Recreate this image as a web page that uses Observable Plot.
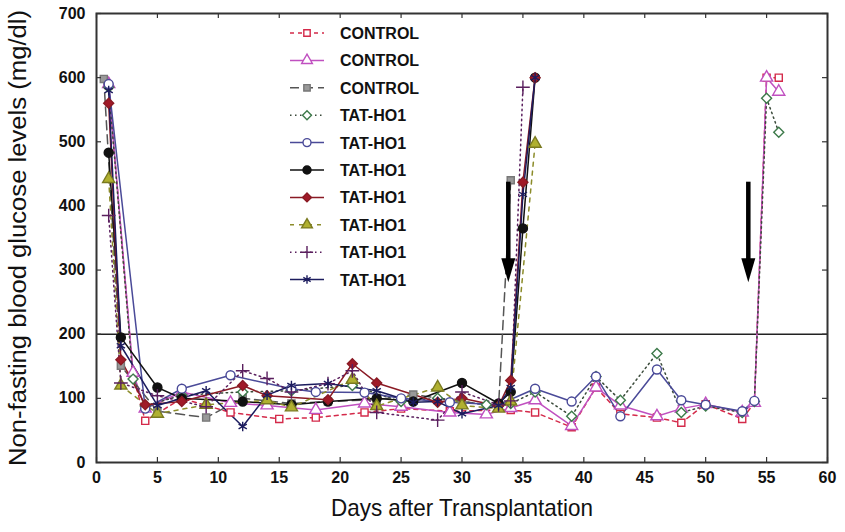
<!DOCTYPE html>
<html><head><meta charset="utf-8">
<script src="https://cdn.jsdelivr.net/npm/d3@7"></script>
<script src="https://cdn.jsdelivr.net/npm/@observablehq/plot@0.6"></script>
<style>
body{margin:0;background:#fff;font-family:"Liberation Sans",Arial,sans-serif}
#chart{position:relative;width:845px;height:532px}
#legend{position:absolute;left:0;top:0}
</style></head><body><div id="chart"></div>
<script>
// ---- data ----
const xTicks = [0,5,10,15,20,25,30,35,40,45,50,55,60];
const yTicks = [0,100,200,300,400,500,600,700];
const thresholdValue = [200];
const arrowDays = [33.8, 53.5];
const arrowTop = 437, arrowTip = 281;
const seriesNames = ["CONTROL","CONTROL","CONTROL","TAT-HO1","TAT-HO1","TAT-HO1","TAT-HO1","TAT-HO1","TAT-HO1","TAT-HO1"];

const controlSquare = [[1,588],[3,136],[4,65],[7,100],[11,78],[15,68],[18,70],[22,78],[25,84],[29,80],[34,82],[36,78],[39,55],[41,117],[43,76],[46,70],[48,62],[50,91],[53,68],[54,93],[55,600],[56,600]];
const controlTriangle = [[1,590],[3,140],[4,84],[7,110],[11,93],[14,89],[18,82],[22,92],[25,87],[29,78],[32,75],[34,85],[36,97],[39,57],[41,117],[43,89],[46,72],[48,84],[50,91],[53,78],[54,93],[55,600],[56,578]];
const controlGray = [[0.6,598],[2,151],[5,80],[9,70],[12,100],[16,92],[19,95],[23,98],[26,106],[30,95],[33,88],[34,440]];
const tatDiamond = [[1,585],[3,130],[4,88],[7,105],[12,110],[16,112],[21,120],[25,95],[28,100],[32,90],[34,92],[36,110],[39,72],[41,134],[43,97],[46,170],[48,78],[50,88],[53,78],[54,95],[55,568],[56,515]];
const tatCircle = [[1,590],[4,84],[7,115],[11,136],[16,115],[18,110],[22,109],[25,100],[29,94],[33,90],[36,115],[39,95],[41,134],[43,72],[46,145],[48,97],[50,90],[53,80],[54,96]];
const tatBlackDot = [[1,483],[2,195],[5,117],[7,100],[12,95],[16,90],[19,95],[23,100],[26,95],[30,124],[33,92],[34,110],[35,365],[36,600]];
const tatRedDiamond = [[1,560],[2,160],[4,90],[7,95],[12,120],[14,104],[19,98],[21,154],[23,124],[28,94],[30,100],[33,88],[34,128],[35,437],[36,600]];
const tatYellow = [[1,442],[2,120],[5,76],[9,90],[14,97],[16,86],[21,129],[23,88],[28,117],[30,89],[33,84],[34,95],[36,497]];
const tatPlus = [[1,385],[2,124],[5,104],[9,87],[12,143],[14,131],[16,110],[19,123],[21,143],[23,78],[28,66],[30,110],[33,90],[34,96],[35,585]];
const tatAsterisk = [[1,580],[2,182],[5,89],[9,112],[12,56],[14,105],[16,120],[19,123],[23,112],[26,94],[28,95],[30,76],[33,89],[34,117],[35,418],[36,600]];

const seriesData = [controlSquare, controlTriangle, controlGray, tatDiamond, tatCircle, tatBlackDot, tatRedDiamond, tatYellow, tatPlus, tatAsterisk];

// ---- styles ----
const styles = [
  {line:"#d42a4a", dash:"4,4", sym:"square", stroke:"#d42a4a", fill:"white", d3s:d3.symbolSquare},
  {line:"#c050c0", dash:null, sym:"triangle", stroke:"#c050c0", fill:"white", d3s:d3.symbolTriangle},
  {line:"#555555", dash:"9,5", sym:"square", stroke:"#777", fill:"#999", d3s:d3.symbolSquare},
  {line:"#3a4a3a", dash:"1.5,3.5", sym:"diamond2", stroke:"#3d7a4a", fill:"white", d3s:d3.symbolDiamond2},
  {line:"#4a4a98", dash:null, sym:"circle", stroke:"#4a4a98", fill:"white", d3s:d3.symbolCircle},
  {line:"#111111", dash:null, sym:"circle", stroke:"#111", fill:"#111", d3s:d3.symbolCircle},
  {line:"#8a1a24", dash:null, sym:"diamond2", stroke:"#8a1a24", fill:"#a01a28", d3s:d3.symbolDiamond2},
  {line:"#8c8c2a", dash:"4,5", sym:"triangle", stroke:"#7a7a20", fill:"#b0b030", d3s:d3.symbolTriangle},
  {line:"#5a1f5e", dash:"1.5,3.5", sym:"plus", stroke:"#5a1f5e", fill:"none", d3s:d3.symbolPlus},
  {line:"#1c1c5e", dash:null, sym:"asterisk", stroke:"#1c1c5e", fill:"none", d3s:d3.symbolAsterisk}
];

const arrowHead = {draw(ctx){ ctx.moveTo(0,0); ctx.lineTo(-7,-24); ctx.lineTo(7,-24); ctx.closePath(); }};

const W = 845, H = 532, mt = 13, mb = 70, ml = 96, mr = 18;
const fw = W - ml - mr, fh = H - mt - mb;

const marks = [];
marks.push(Plot.ruleY(thresholdValue, {y: d => d, stroke: "#222", strokeWidth: 1.6}));
seriesData.forEach((data, i) => {
  const s = styles[i];
  marks.push(Plot.line(data, {x: d => d[0], y: d => d[1], stroke: s.line, strokeWidth: 1.5, strokeDasharray: s.dash || undefined}));
});
seriesData.forEach((data, i) => {
  const s = styles[i];
  marks.push(Plot.dot(data, {x: d => d[0], y: d => d[1], symbol: s.sym, r: s.sym === "square" ? 4 : 4.5, stroke: s.stroke, fill: s.fill, strokeWidth: 1.4}));
});
// arrows
marks.push(Plot.ruleX(arrowDays, {x: d => d, y1: arrowTop, y2: arrowTip, stroke: "black", strokeWidth: 4.5, insetBottom: 12}));
marks.push(Plot.dot(arrowDays, {x: d => d, y: arrowTip, symbol: arrowHead, fill: "black", stroke: "none"}));
// inward ticks
marks.push(Plot.tickX(xTicks, {x: d => d, insetTop: fh - 5, stroke: "#333", strokeWidth: 1.2}));
marks.push(Plot.tickX(xTicks, {x: d => d, insetBottom: fh - 5, stroke: "#333", strokeWidth: 1.2}));
marks.push(Plot.tickY(yTicks, {y: d => d, insetRight: fw - 5, stroke: "#333", strokeWidth: 1.2}));
marks.push(Plot.tickY(yTicks, {y: d => d, insetLeft: fw - 5, stroke: "#333", strokeWidth: 1.2}));
marks.push(Plot.frame({stroke: "#333", strokeWidth: 2}));
marks.push(Plot.axisX({ticks: xTicks, tickSize: 0, tickPadding: 9, label: null, fontSize: 16, fontWeight: "bold", fill: "#111"}));
marks.push(Plot.axisY({ticks: yTicks, tickSize: 0, tickPadding: 11, label: null, fontSize: 16, fontWeight: "bold", fill: "#111"}));
marks.push(Plot.text(["Days after Transplantation"], {frameAnchor: "bottom", dy: 53, fontSize: 24, fontWeight: "normal", fill: "#111", className: "xtitle"}));
marks.push(Plot.text(["Non-fasting blood glucose levels (mg/dl)"], {frameAnchor: "left", textAnchor: "middle", dx: -78, rotate: -90, fontSize: 23, fontWeight: "normal", fill: "#111", className: "ytitle"}));

const chart = Plot.plot({
  width: W, height: H,
  marginTop: mt, marginBottom: mb, marginLeft: ml, marginRight: mr,
  x: {domain: [0, 60]},
  y: {domain: [0, 700]},
  style: {fontFamily: "'Liberation Sans', Arial, sans-serif", background: "white"},
  marks
});
const host = document.getElementById("chart");
host.appendChild(chart);
// condense the axis titles like the reference
d3.select(chart).selectAll(".xtitle text").attr("textLength", 262).attr("lengthAdjust", "spacingAndGlyphs");
d3.select(chart).selectAll(".ytitle text").attr("textLength", 456).attr("lengthAdjust", "spacingAndGlyphs");

// legend overlay
const lg = d3.select(host).append("svg").attr("id","legend").attr("width", W).attr("height", H);
seriesNames.forEach((name, i) => {
  const s = styles[i];
  const y = 33 + i * 27.4;
  const g = lg.append("g").attr("transform", `translate(0,${y})`);
  g.append("line").attr("x1", 290).attr("x2", 324).attr("y1", 0).attr("y2", 0)
    .attr("stroke", s.line).attr("stroke-width", 1.5).attr("stroke-dasharray", s.dash || null);
  const size = Math.PI * Math.pow(s.sym === "square" ? 3.6 : 4, 2);
  g.append("path").attr("transform", "translate(307,0)").attr("d", d3.symbol(s.d3s, size)())
    .attr("fill", s.fill).attr("stroke", s.stroke).attr("stroke-width", 1.4);
  g.append("text").attr("x", 340).attr("y", 6).text(name)
    .attr("font-family", "'Liberation Sans', Arial, sans-serif").attr("font-weight", "bold").attr("font-size", 16).attr("fill", "#111");
});
</script></body></html>
